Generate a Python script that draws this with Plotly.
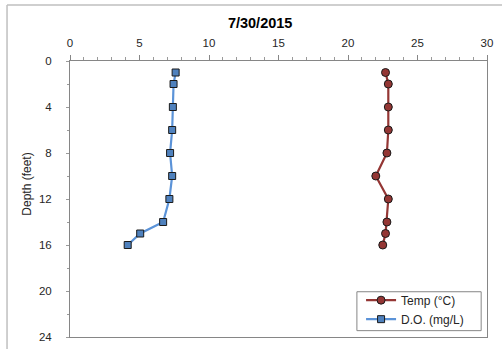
import plotly.graph_objects as go

depth = [1, 2, 4, 6, 8, 10, 12, 14, 15, 16]
temp_c = [22.7, 22.9, 22.9, 22.9, 22.8, 22.0, 22.9, 22.8, 22.7, 22.5]
do_mgl = [7.6, 7.45, 7.4, 7.35, 7.2, 7.35, 7.15, 6.7, 5.05, 4.15]

title_text = "7/30/2015"
y_title = "Depth (feet)"
x_ticks = [0, 5, 10, 15, 20, 25, 30]
y_ticks = [0, 4, 8, 12, 16, 20, 24]

fig = go.Figure()
fig.add_trace(go.Scatter(
    x=temp_c, y=depth, name="Temp (°C)", mode="lines+markers",
    line=dict(color="#943634", width=2.2),
    marker=dict(symbol="circle", size=8, color="#943634",
                line=dict(color="#1a1a1a", width=1)),
))
fig.add_trace(go.Scatter(
    x=do_mgl, y=depth, name="D.O. (mg/L)", mode="lines+markers",
    line=dict(color="#5B93D8", width=2.2),
    marker=dict(symbol="square", size=7, color="#4F81BD",
                line=dict(color="#1a1a1a", width=1)),
))

axis_font = dict(family="Liberation Sans, Arial, sans-serif", size=11.5, color="#262626")

fig.update_layout(
    width=502, height=349,
    margin=dict(l=70, r=15, t=61, b=12, autoexpand=False),
    paper_bgcolor="white", plot_bgcolor="white",
    font=dict(family="Liberation Sans, Arial, sans-serif", size=12, color="#262626"),
    title=dict(text="<b>" + title_text + "</b>", x=0.456, xref="paper",
               xanchor="center", y=0.933, yanchor="middle",
               font=dict(size=14.5, color="#000000")),
    xaxis=dict(side="top", range=[0, 30], tickvals=x_ticks, automargin=False,
               showgrid=False, zeroline=False, showline=True, mirror=True,
               linecolor="#868686", linewidth=1, ticks="outside", ticklen=5,
               tickcolor="#868686", ticklabelstandoff=3,
               minor=dict(dtick=1, ticks="outside", ticklen=3, tickcolor="#9a9a9a"),
               tickfont=axis_font),
    yaxis=dict(range=[24, 0], tickvals=y_ticks, automargin=False,
               showgrid=False, zeroline=False, showline=True, mirror=True,
               linecolor="#868686", linewidth=1, ticks="outside", ticklen=3,
               tickcolor="#9a9a9a", ticklabelstandoff=12,
               minor=dict(dtick=2, ticks="outside", ticklen=2, tickcolor="#9a9a9a"),
               tickfont=axis_font),
    legend=dict(x=0.698, y=0.186, xanchor="left", yanchor="top",
                bgcolor="rgba(0,0,0,0)", borderwidth=0,
                font=dict(size=12, color="#262626"), itemwidth=30,
                tracegroupgap=0),
    showlegend=True,
)

fig.add_annotation(text=y_title, xref="paper", yref="paper",
                   x=-0.103, y=0.552, textangle=-90, showarrow=False,
                   xanchor="center", yanchor="middle",
                   font=dict(size=12, color="#262626"))

# legend frame
fig.add_shape(type="rect", xref="paper", yref="paper",
              x0=0.688, x1=0.986, y0=0.023, y1=0.164,
              line=dict(color="#868686", width=1), fillcolor="white",
              layer="above")

# outer chart border (top and left visible in the crop)
fig.add_shape(type="line", xref="paper", yref="paper",
              x0=-0.151, x1=1.2, y0=1.203, y1=1.203,
              line=dict(color="#BFBFBF", width=1.5))
fig.add_shape(type="line", xref="paper", yref="paper",
              x0=-0.151, x1=-0.151, y0=-0.2, y1=1.203,
              line=dict(color="#BFBFBF", width=1.5))

fig.write_html("out.html", config={"displayModeBar": False},
               post_script="document.body.style.margin='0';document.body.style.overflow='hidden';")
